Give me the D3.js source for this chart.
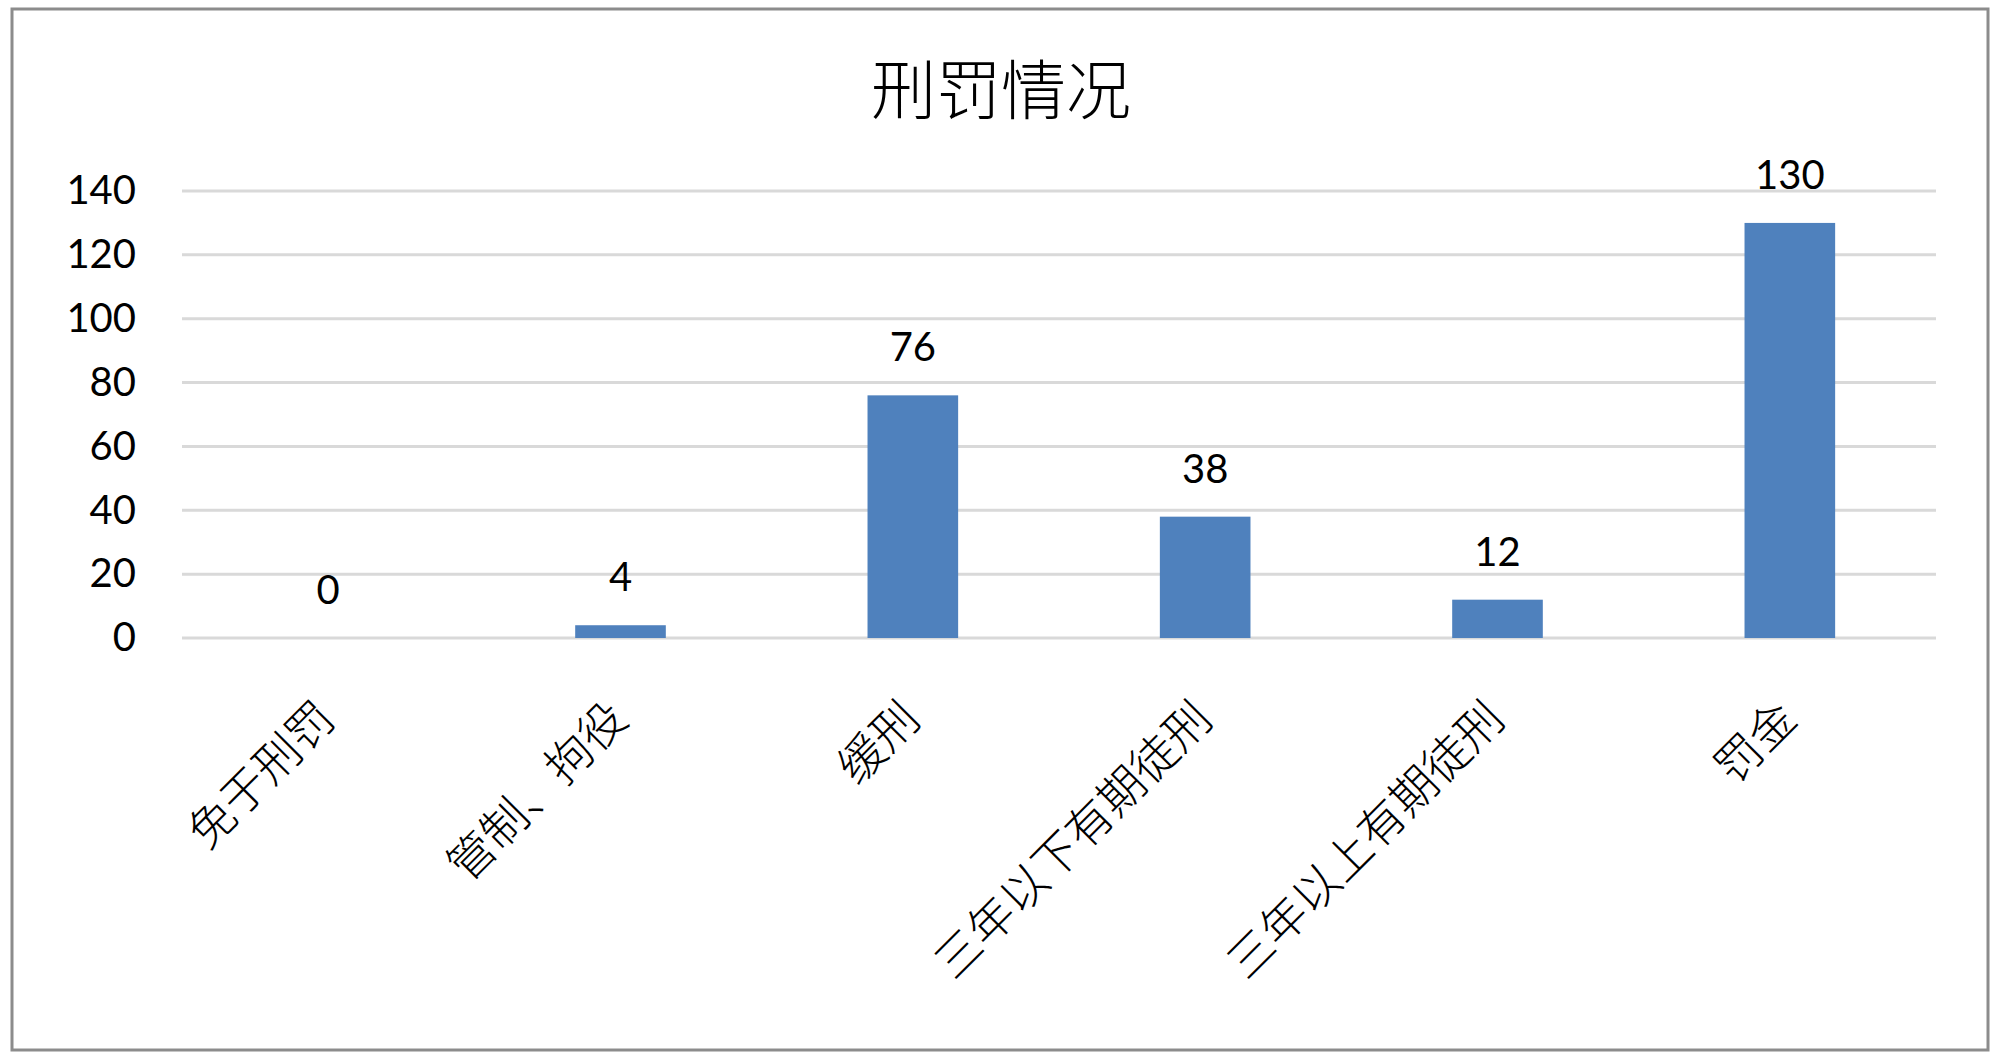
<!DOCTYPE html>
<html>
<head>
<meta charset="utf-8">
<script src="https://cdn.jsdelivr.net/npm/d3@7"></script>
<style>
  body { margin: 0; background: #ffffff; }
  svg { display: block; }
</style>
</head>
<body>
<svg id="chart" width="2000" height="1061"></svg>
<script>
// data
let categories = ['免于刑罚', '管制、拘役', '缓刑', '三年以下有期徒刑', '三年以上有期徒刑', '罚金'];
let counts = [0, 4, 76, 38, 12, 130];
let yTicks = [0, 20, 40, 60, 80, 100, 120, 140];
let chartTitle = '刑罚情况';

let svg = d3.select('#chart');
let cjk = '"Noto Sans CJK SC", sans-serif';
let num = 'Lato, "Open Sans", sans-serif';

// outer frame
svg.append('rect')
  .attr('x', 12).attr('y', 9)
  .attr('width', 1976).attr('height', 1041)
  .attr('fill', '#ffffff')
  .attr('stroke', '#8c8c8c')
  .attr('stroke-width', 3);

let plotLeft = 182, plotRight = 1936, plotTop = 191, plotBottom = 638;

let x = d3.scaleBand()
  .domain(categories)
  .range([plotLeft, plotRight])
  .paddingInner(0.69)
  .paddingOuter(0.345);

let y = d3.scaleLinear()
  .domain([0, 140])
  .range([plotBottom, plotTop]);

// title
svg.append('text')
  .attr('x', 1001)
  .attr('y', 114)
  .attr('text-anchor', 'middle')
  .attr('font-family', cjk)
  .attr('font-weight', 300)
  .attr('font-size', 65)
  .attr('fill', '#000')
  .text(chartTitle);

// gridlines
svg.append('g')
  .selectAll('line')
  .data(yTicks)
  .enter()
  .append('line')
  .attr('x1', plotLeft)
  .attr('x2', plotRight)
  .attr('y1', function(d) { return y(d) })
  .attr('y2', function(d) { return y(d) })
  .attr('stroke', '#d9d9d9')
  .attr('stroke-width', 3);

// y axis labels
let yAxis = svg.append('g')
  .attr('transform', 'translate(' + (plotLeft - 46) + ',0)')
  .call(d3.axisLeft(y).tickValues(yTicks).tickSize(0).tickPadding(0));
yAxis.select('.domain').remove();
yAxis.selectAll('text')
  .attr('font-family', num)
  .attr('font-size', 40)
  .attr('fill', '#000');

// bars
svg.append('g')
  .selectAll('rect')
  .data(counts)
  .enter()
  .append('rect')
  .attr('x', function(d, i) { return x(categories[i]) })
  .attr('y', function(d) { return y(d) })
  .attr('width', x.bandwidth())
  .attr('height', function(d) { return plotBottom - y(d) })
  .attr('fill', '#4f81bd');

// value labels
svg.append('g')
  .selectAll('text')
  .data(counts)
  .enter()
  .append('text')
  .attr('x', function(d, i) { return x(categories[i]) + x.bandwidth() / 2 })
  .attr('y', function(d) { return y(d) - 34 })
  .attr('text-anchor', 'middle')
  .attr('font-family', num)
  .attr('font-size', 40)
  .attr('fill', '#000')
  .text(function(d) { return d });

// rotated category labels
svg.append('g')
  .selectAll('text')
  .data(categories)
  .enter()
  .append('text')
  .attr('transform', function(d) {
    let cx = x(d) + x.bandwidth() / 2 - 2;
    return 'translate(' + cx + ',' + (plotBottom + 72) + ') rotate(-45)';
  })
  .attr('text-anchor', 'end')
  .attr('dy', '0.35em')
  .attr('font-family', cjk)
  .attr('font-weight', 300)
  .attr('font-size', 46)
  .attr('fill', '#000')
  .text(function(d) { return d });
</script>
</body>
</html>
